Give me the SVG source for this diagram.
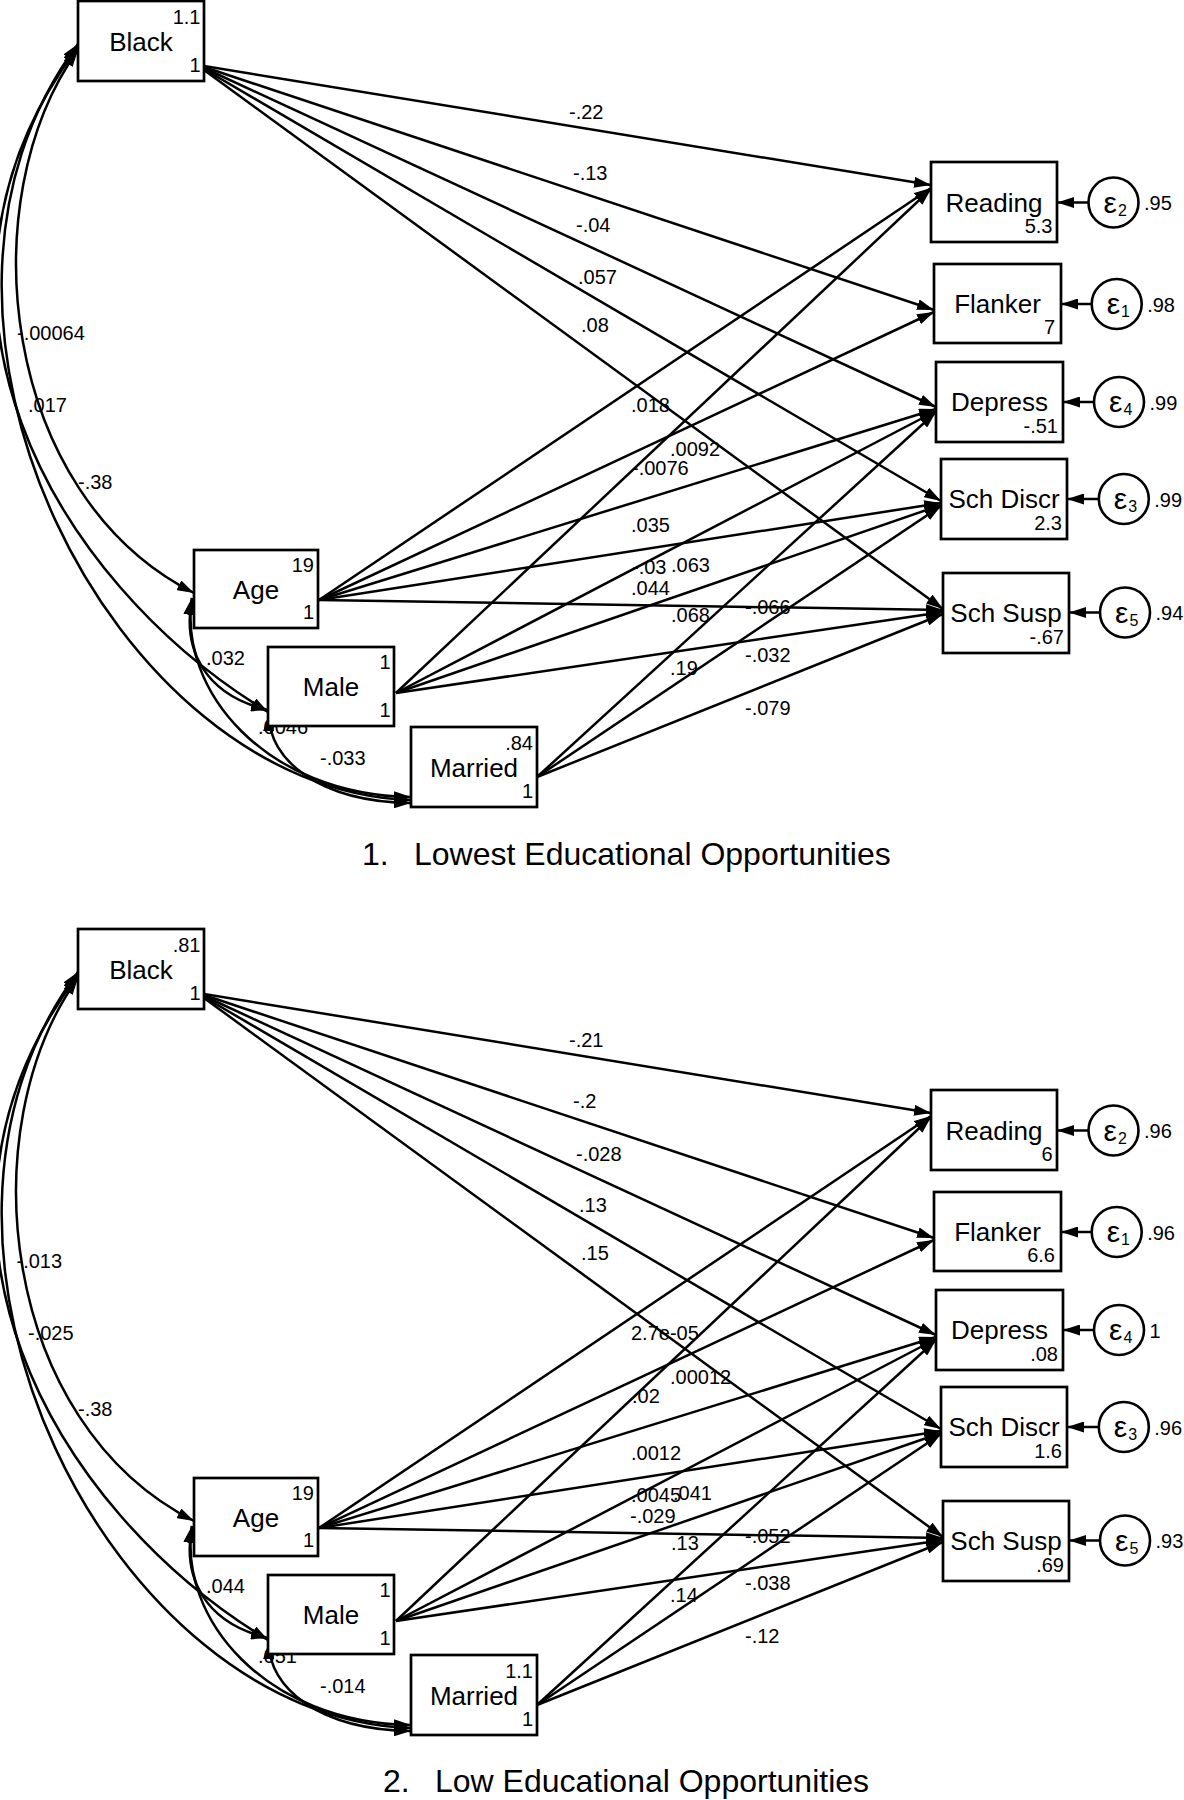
<svg xmlns="http://www.w3.org/2000/svg" width="1184" height="1800" viewBox="0 0 1184 1800">
<defs>
<marker id="ah" markerUnits="userSpaceOnUse" markerWidth="17" markerHeight="11" viewBox="0 0 17 11" refX="17" refY="5.5" orient="auto-start-reverse"><path d="M0,0 L17,5.5 L0,11 z" fill="#000"/></marker>
</defs>
<style>
.box{fill:#fff;stroke:#000;stroke-width:2.7}
.circ{fill:#fff;stroke:#000;stroke-width:2.6}
text{font-family:"Liberation Sans",Arial,sans-serif;fill:#000}
.lbl{font-size:26px;text-anchor:middle}
.cn{font-size:20px;text-anchor:end}
.el{font-size:20px}
.var{font-size:20px}
.eps{font-size:30px}
.sub{font-size:16px}
.title{font-size:32px}
.p{fill:none;stroke:#000;stroke-width:2.5;marker-end:url(#ah)}
.cov{fill:none;stroke:#000;stroke-width:2.5;marker-start:url(#ah);marker-end:url(#ah)}
</style>
<rect x="0" y="0" width="1184" height="1800" fill="#fff"/>

<!-- ================= PANEL 1 ================= -->
<g id="panel1">
<g id="p1-connectors">
<path class="p" d="M204,66 L931,185"/>
<path class="p" d="M204,67 L934,310"/>
<path class="p" d="M204,68 L936,407"/>
<path class="p" d="M204,69 L941,501"/>
<path class="p" d="M204,70 L943,609"/>
<path class="p" d="M319,600 L931,188"/>
<path class="p" d="M319,600 L934,312"/>
<path class="p" d="M319,600 L936,409"/>
<path class="p" d="M319,600 L941,503"/>
<path class="p" d="M319,600 L943,610"/>
<path class="p" d="M396,693 L931,189"/>
<path class="p" d="M396,693 L936,411"/>
<path class="p" d="M396,693 L941,505"/>
<path class="p" d="M396,693 L943,612"/>
<path class="p" d="M537,777 L936,412"/>
<path class="p" d="M537,777 L941,506"/>
<path class="p" d="M537,777 L943,614"/>
<path class="cov" d="M78,50 C-30,200 0,495 194,593"/>
<path class="cov" d="M78,47 C-108,295 50,580 268,712"/>
<path class="cov" d="M78,44 C-126,316 111,791 411,800"/>
<path class="cov" d="M192,598 C182,650 205,695 268,710"/>
<path class="cov" d="M192,598 C178,690 265,795 411,797"/>
<path class="cov" d="M269,714 C268,760 320,802 411,803"/>
<path class="p" d="M1088.5,202.5 L1057,202.5"/>
<path class="p" d="M1091.7,304 L1061,304"/>
<path class="p" d="M1094,402 L1063,402"/>
<path class="p" d="M1098.8,499 L1067,499"/>
<path class="p" d="M1100,612.5 L1069,612.5"/>
</g>
<g id="p1-edge-labels">
<text class="el" x="569" y="119">-.22</text>
<text class="el" x="573" y="180">-.13</text>
<text class="el" x="576" y="232">-.04</text>
<text class="el" x="578" y="284">.057</text>
<text class="el" x="581" y="332">.08</text>
<text class="el" x="631" y="411.5">.018</text>
<text class="el" x="670" y="456">.0092</text>
<text class="el" x="632" y="474.5">-.0076</text>
<text class="el" x="631" y="531.5">.035</text>
<text class="el" x="632" y="574">-.03</text>
<text class="el" x="671" y="572">.063</text>
<text class="el" x="631" y="595">.044</text>
<text class="el" x="671" y="622">.068</text>
<text class="el" x="745" y="614">-.066</text>
<text class="el" x="745" y="661.5">-.032</text>
<text class="el" x="670" y="674.5">.19</text>
<text class="el" x="745" y="714.5">-.079</text>
<text class="el" x="17" y="340">-.00064</text>
<text class="el" x="28" y="412">.017</text>
<text class="el" x="78" y="489">-.38</text>
<text class="el" x="206" y="665">.032</text>
<text class="el" x="258" y="734">.0046</text>
<text class="el" x="320" y="764.5">-.033</text>
</g>
<g id="p1-black"><rect class="box" x="78" y="1" width="126" height="80"/><text class="lbl" x="141" y="50.5">Black</text><text class="cn" x="200.5" y="23.5">1.1</text><text class="cn" x="200.5" y="71.5">1</text></g>
<g id="p1-age"><rect class="box" x="194" y="550" width="124" height="78"/><text class="lbl" x="256" y="599">Age</text><text class="cn" x="314" y="572">19</text><text class="cn" x="314" y="619">1</text></g>
<g id="p1-male"><rect class="box" x="268" y="647" width="126" height="79"/><text class="lbl" x="331" y="696">Male</text><text class="cn" x="390.5" y="669">1</text><text class="cn" x="390.5" y="716.5">1</text></g>
<g id="p1-married"><rect class="box" x="411" y="727" width="126" height="80"/><text class="lbl" x="474" y="776.5">Married</text><text class="cn" x="533" y="749.5">.84</text><text class="cn" x="533" y="797.5">1</text></g>
<g id="p1-reading"><rect class="box" x="931" y="162" width="126" height="80"/><text class="lbl" x="994" y="211.5">Reading</text><text class="cn" x="1052.5" y="232.5">5.3</text></g>
<g id="p1-flanker"><rect class="box" x="934" y="264" width="127" height="79"/><text class="lbl" x="997.5" y="313">Flanker</text><text class="cn" x="1055" y="333.5">7</text></g>
<g id="p1-depress"><rect class="box" x="936" y="362" width="127" height="80"/><text class="lbl" x="999.5" y="411">Depress</text><text class="cn" x="1058" y="432.5">-.51</text></g>
<g id="p1-schdiscr"><rect class="box" x="941" y="459" width="126" height="80"/><text class="lbl" x="1004" y="508">Sch Discr</text><text class="cn" x="1062" y="529.5">2.3</text></g>
<g id="p1-schsusp"><rect class="box" x="943" y="573" width="126" height="80"/><text class="lbl" x="1006" y="622">Sch Susp</text><text class="cn" x="1064" y="643.5">-.67</text></g>
<g id="p1-e2"><circle class="circ" cx="1113.5" cy="202.5" r="25"/><text class="eps" x="1103.5" y="212.5">ε<tspan class="sub" dx="1" dy="3">2</tspan></text><text class="var" x="1144" y="210">.95</text></g>
<g id="p1-e1"><circle class="circ" cx="1116.7" cy="304" r="25"/><text class="eps" x="1106.7" y="314">ε<tspan class="sub" dx="1" dy="3">1</tspan></text><text class="var" x="1147.2" y="311.5">.98</text></g>
<g id="p1-e4"><circle class="circ" cx="1119" cy="402" r="25"/><text class="eps" x="1109" y="412">ε<tspan class="sub" dx="1" dy="3">4</tspan></text><text class="var" x="1149.5" y="409.5">.99</text></g>
<g id="p1-e3"><circle class="circ" cx="1123.8" cy="499" r="25"/><text class="eps" x="1113.8" y="509">ε<tspan class="sub" dx="1" dy="3">3</tspan></text><text class="var" x="1154.3" y="506.5">.99</text></g>
<g id="p1-e5"><circle class="circ" cx="1125" cy="612.5" r="25"/><text class="eps" x="1115" y="622.5">ε<tspan class="sub" dx="1" dy="3">5</tspan></text><text class="var" x="1155.5" y="620">.94</text></g>
<text id="p1-title" class="title" y="865"><tspan x="362">1.</tspan><tspan x="414">Lowest Educational Opportunities</tspan></text>
</g>

<!-- ================= PANEL 2 ================= -->
<g id="panel2" transform="translate(0,928)">
<g id="p2-connectors">
<path class="p" d="M204,66 L931,185"/>
<path class="p" d="M204,67 L934,310"/>
<path class="p" d="M204,68 L936,407"/>
<path class="p" d="M204,69 L941,501"/>
<path class="p" d="M204,70 L943,609"/>
<path class="p" d="M319,600 L931,188"/>
<path class="p" d="M319,600 L934,312"/>
<path class="p" d="M319,600 L936,409"/>
<path class="p" d="M319,600 L941,503"/>
<path class="p" d="M319,600 L943,610"/>
<path class="p" d="M396,693 L931,189"/>
<path class="p" d="M396,693 L936,411"/>
<path class="p" d="M396,693 L941,505"/>
<path class="p" d="M396,693 L943,612"/>
<path class="p" d="M537,777 L936,412"/>
<path class="p" d="M537,777 L941,506"/>
<path class="p" d="M537,777 L943,614"/>
<path class="cov" d="M78,50 C-30,200 0,495 194,593"/>
<path class="cov" d="M78,47 C-108,295 50,580 268,712"/>
<path class="cov" d="M78,44 C-126,316 111,791 411,800"/>
<path class="cov" d="M192,598 C182,650 205,695 268,710"/>
<path class="cov" d="M192,598 C178,690 265,795 411,797"/>
<path class="cov" d="M269,714 C268,760 320,802 411,803"/>
<path class="p" d="M1088.5,202.5 L1057,202.5"/>
<path class="p" d="M1091.7,304 L1061,304"/>
<path class="p" d="M1094,402 L1063,402"/>
<path class="p" d="M1098.8,499 L1067,499"/>
<path class="p" d="M1100,612.5 L1069,612.5"/>
</g>
<g id="p2-edge-labels">
<text class="el" x="569" y="119">-.21</text>
<text class="el" x="573" y="180">-.2</text>
<text class="el" x="576" y="232.5">-.028</text>
<text class="el" x="579" y="284">.13</text>
<text class="el" x="581" y="331.5">.15</text>
<text class="el" x="631" y="411.5">2.7e-05</text>
<text class="el" x="670" y="456">.00012</text>
<text class="el" x="632" y="474.5">.02</text>
<text class="el" x="631" y="531.5">.0012</text>
<text class="el" x="631" y="574">.0045</text>
<text class="el" x="673" y="572">.041</text>
<text class="el" x="630" y="595">-.029</text>
<text class="el" x="671" y="622">.13</text>
<text class="el" x="745" y="614.5">-.052</text>
<text class="el" x="745" y="661.5">-.038</text>
<text class="el" x="670" y="674">.14</text>
<text class="el" x="745" y="714.5">-.12</text>
<text class="el" x="16.5" y="340">-.013</text>
<text class="el" x="28" y="411.5">-.025</text>
<text class="el" x="78" y="488">-.38</text>
<text class="el" x="206" y="664.5">.044</text>
<text class="el" x="258" y="734.5">.051</text>
<text class="el" x="320" y="764.5">-.014</text>
</g>
<g id="p2-black"><rect class="box" x="78" y="1" width="126" height="80"/><text class="lbl" x="141" y="50.5">Black</text><text class="cn" x="200.5" y="23.5">.81</text><text class="cn" x="200.5" y="71.5">1</text></g>
<g id="p2-age"><rect class="box" x="194" y="550" width="124" height="78"/><text class="lbl" x="256" y="599">Age</text><text class="cn" x="314" y="572">19</text><text class="cn" x="314" y="619">1</text></g>
<g id="p2-male"><rect class="box" x="268" y="647" width="126" height="79"/><text class="lbl" x="331" y="696">Male</text><text class="cn" x="390.5" y="669">1</text><text class="cn" x="390.5" y="716.5">1</text></g>
<g id="p2-married"><rect class="box" x="411" y="727" width="126" height="80"/><text class="lbl" x="474" y="776.5">Married</text><text class="cn" x="533" y="749.5">1.1</text><text class="cn" x="533" y="797.5">1</text></g>
<g id="p2-reading"><rect class="box" x="931" y="162" width="126" height="80"/><text class="lbl" x="994" y="211.5">Reading</text><text class="cn" x="1052.5" y="232.5">6</text></g>
<g id="p2-flanker"><rect class="box" x="934" y="264" width="127" height="79"/><text class="lbl" x="997.5" y="313">Flanker</text><text class="cn" x="1055" y="333.5">6.6</text></g>
<g id="p2-depress"><rect class="box" x="936" y="362" width="127" height="80"/><text class="lbl" x="999.5" y="411">Depress</text><text class="cn" x="1058" y="432.5">.08</text></g>
<g id="p2-schdiscr"><rect class="box" x="941" y="459" width="126" height="80"/><text class="lbl" x="1004" y="508">Sch Discr</text><text class="cn" x="1062" y="529.5">1.6</text></g>
<g id="p2-schsusp"><rect class="box" x="943" y="573" width="126" height="80"/><text class="lbl" x="1006" y="622">Sch Susp</text><text class="cn" x="1064" y="643.5">.69</text></g>
<g id="p2-e2"><circle class="circ" cx="1113.5" cy="202.5" r="25"/><text class="eps" x="1103.5" y="212.5">ε<tspan class="sub" dx="1" dy="3">2</tspan></text><text class="var" x="1144" y="210">.96</text></g>
<g id="p2-e1"><circle class="circ" cx="1116.7" cy="304" r="25"/><text class="eps" x="1106.7" y="314">ε<tspan class="sub" dx="1" dy="3">1</tspan></text><text class="var" x="1147.2" y="311.5">.96</text></g>
<g id="p2-e4"><circle class="circ" cx="1119" cy="402" r="25"/><text class="eps" x="1109" y="412">ε<tspan class="sub" dx="1" dy="3">4</tspan></text><text class="var" x="1149.5" y="409.5">1</text></g>
<g id="p2-e3"><circle class="circ" cx="1123.8" cy="499" r="25"/><text class="eps" x="1113.8" y="509">ε<tspan class="sub" dx="1" dy="3">3</tspan></text><text class="var" x="1154.3" y="506.5">.96</text></g>
<g id="p2-e5"><circle class="circ" cx="1125" cy="612.5" r="25"/><text class="eps" x="1115" y="622.5">ε<tspan class="sub" dx="1" dy="3">5</tspan></text><text class="var" x="1155.5" y="620">.93</text></g>
<text id="p2-title" class="title" y="864"><tspan x="383">2.</tspan><tspan x="435">Low Educational Opportunities</tspan></text>
</g>
</svg>
